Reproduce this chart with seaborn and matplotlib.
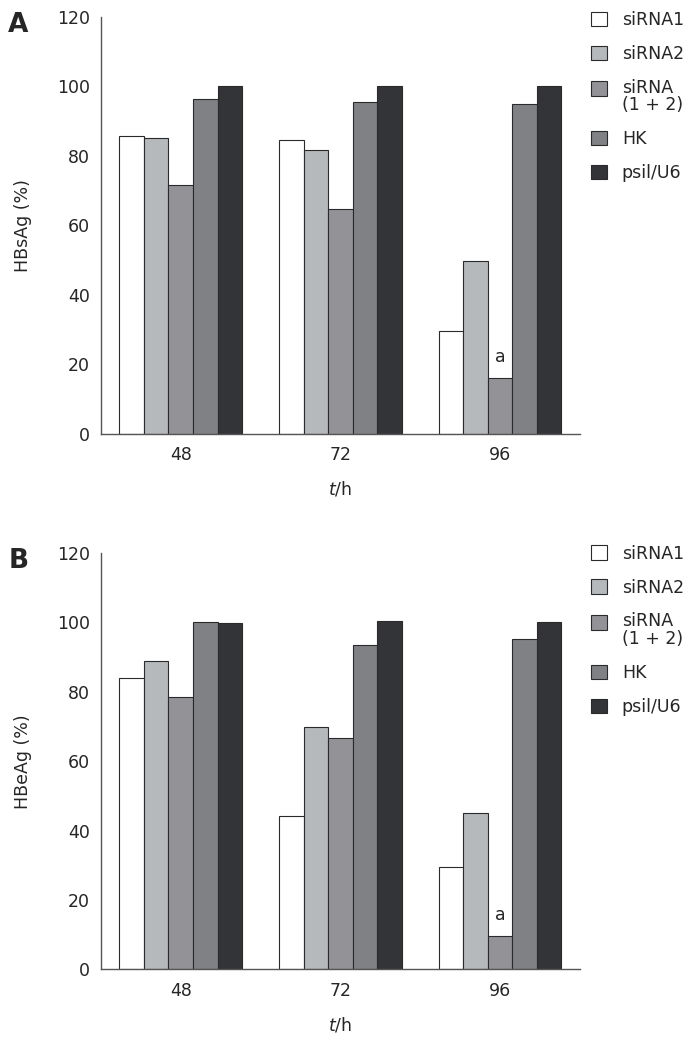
import pandas as pd
import seaborn as sns
import matplotlib.pyplot as plt
from matplotlib.patches import Patch, Rectangle
from matplotlib.legend_handler import HandlerPatch

# DATA
TIMES = ["48", "72", "96"]
GROUPS = ["siRNA1", "siRNA2", "siRNA\n(1 + 2)", "HK", "psil/U6"]
COLORS = ["#ffffff", "#b6b9bb", "#939397", "#808184", "#333437"]

# one list per group, values at 48 / 72 / 96 h
HBSAG_SIRNA1 = [85.8, 84.5, 29.5]
HBSAG_SIRNA2 = [85.1, 81.7, 49.9]
HBSAG_COMBO = [71.6, 64.8, 16.0]
HBSAG_HK = [96.5, 95.4, 94.9]
HBSAG_PSIL = [100.0, 100.0, 100.0]

HBEAG_SIRNA1 = [83.9, 44.2, 29.6]
HBEAG_SIRNA2 = [88.9, 69.9, 45.1]
HBEAG_COMBO = [78.4, 66.7, 9.6]
HBEAG_HK = [100.0, 93.5, 95.2]
HBEAG_PSIL = [99.7, 100.4, 100.1]

FONT = 12.5
SPINE = "#555555"
EDGE = "#2a2a2a"


def make_df(series):
    rows = []
    for grp, vals in zip(GROUPS, series):
        for t, v in zip(TIMES, vals):
            rows.append({"time": t, "group": grp, "value": v})
    return pd.DataFrame(rows)


def top_square(legend, orig_handle, xdescent, ydescent, width, height, fontsize):
    # square lined up with the first line of a two-line label
    return Rectangle((-xdescent, -ydescent + 0.5 * fontsize), width, height)


def draw_panel(fig, rect, df, ylabel, letter, legend_top):
    ax = fig.add_axes(rect)
    sns.barplot(data=df, x="time", y="value", hue="group", order=TIMES,
                hue_order=GROUPS, palette=COLORS, saturation=1, width=0.77,
                edgecolor=EDGE, linewidth=0.8, legend=False, ax=ax)

    ax.set_xlim(-0.5, 2.5)
    ax.set_ylim(0, 120)
    ax.set_yticks(range(0, 121, 20))
    ax.set_xticks(range(len(TIMES)))
    ax.set_xticklabels(TIMES)
    ax.set_xticks([0.5, 1.5, 2.5], minor=True)
    ax.tick_params(axis="x", which="major", length=0, labelsize=FONT, pad=9)
    ax.tick_params(axis="x", which="minor", direction="in", length=6,
                   width=1, color=SPINE)
    ax.tick_params(axis="y", direction="in", length=6.5, width=1,
                   color=SPINE, labelsize=FONT, pad=8)

    for side in ["top", "right"]:
        ax.spines[side].set_visible(False)
    for side in ["left", "bottom"]:
        ax.spines[side].set_color(SPINE)
        ax.spines[side].set_linewidth(1)

    ax.set_ylabel(ylabel, fontsize=FONT)
    ax.yaxis.set_label_coords(-0.144, 0.5)
    ax.set_xlabel("$t$/h", fontsize=FONT, labelpad=11)

    # significance mark above the combined siRNA bar at 96 h
    bar = ax.containers[2][2]
    ax.text(bar.get_x() + bar.get_width() / 2, bar.get_height() + 3.5, "a",
            ha="center", va="bottom", fontsize=FONT)

    handles = [Patch(facecolor=c, edgecolor=EDGE, linewidth=0.8) for c in COLORS]
    handler_map = {handles[2]: HandlerPatch(patch_func=top_square)}
    leg = fig.legend(handles, GROUPS, loc="upper left", handler_map=handler_map,
                     bbox_to_anchor=(0.852, legend_top), frameon=False,
                     fontsize=FONT, handlelength=0.9, handleheight=0.9,
                     handletextpad=0.86, labelspacing=0.92, borderpad=0,
                     borderaxespad=0)
    leg.get_texts()[2].set_linespacing(0.95)

    fig.text(0.012, rect[1] + rect[3] - 0.008, letter, fontsize=19,
             fontweight="bold", va="center", ha="left")
    return ax


def main():
    sns.set_style("white")
    plt.rcParams["font.family"] = ["DejaVu Sans"]

    fig = plt.figure(figsize=(6.94, 10.42), dpi=100)

    df_s = make_df([HBSAG_SIRNA1, HBSAG_SIRNA2, HBSAG_COMBO, HBSAG_HK, HBSAG_PSIL])
    df_e = make_df([HBEAG_SIRNA1, HBEAG_SIRNA2, HBEAG_COMBO, HBEAG_HK, HBEAG_PSIL])

    draw_panel(fig, [0.1455, 0.5835, 0.690, 0.4002], df_s, "HBsAg (%)", "A", 0.9897)
    draw_panel(fig, [0.1455, 0.0696, 0.690, 0.3997], df_e, "HBeAg (%)", "B", 0.4774)

    fig.savefig("out.png", dpi=100)
    plt.close(fig)


if __name__ == "__main__":
    main()
